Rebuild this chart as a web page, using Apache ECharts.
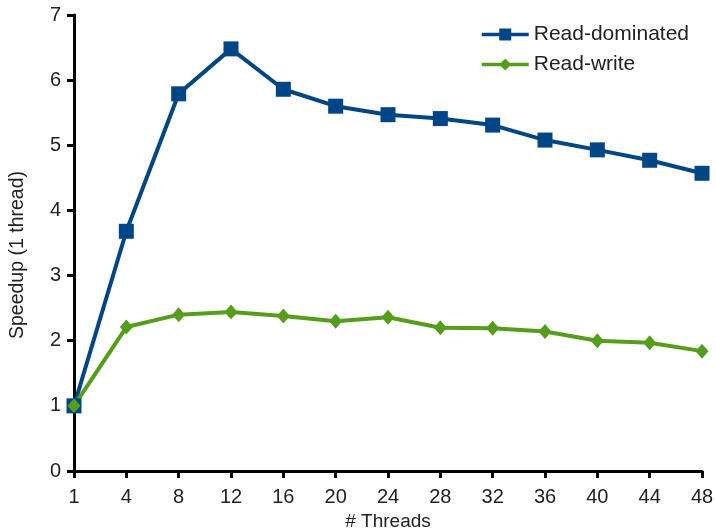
<!DOCTYPE html>
<html>
<head>
<meta charset="utf-8">
<script src="https://cdn.jsdelivr.net/npm/echarts@6/dist/echarts.min.js"></script>
<style>
  html, body { margin: 0; padding: 0; background: #fff; }
  #main { width: 716px; height: 529px; }
</style>
</head>
<body>
<div id="main"></div>
<script>
// thread counts on the x axis
var threads = ['1', '4', '8', '12', '16', '20', '24', '28', '32', '36', '40', '44', '48'];
// speedup relative to 1 thread
var readDominated = [1.0, 3.68, 5.79, 6.48, 5.86, 5.60, 5.47, 5.41, 5.31, 5.08, 4.93, 4.77, 4.57];
var readWrite = [1.0, 2.21, 2.40, 2.44, 2.38, 2.30, 2.36, 2.20, 2.19, 2.14, 2.00, 1.97, 1.84];

var chart = echarts.init(document.getElementById('main'), null, { renderer: 'canvas' });

var font = 'Liberation Sans';

var option = {
  backgroundColor: '#ffffff',
  animation: false,
  color: ['#004586', '#579d1c'],
  grid: { left: 74, right: 14, top: 15, bottom: 58, containLabel: false, outerBoundsMode: 'none' },
  legend: {
    orient: 'vertical',
    right: 22,
    top: 19,
    itemWidth: 47,
    itemHeight: 15,
    itemGap: 9,
    lineStyle: { width: 3.5 },
    textStyle: { fontFamily: font, fontSize: 21, color: '#222' },
    data: ['Read-dominated', 'Read-write']
  },
  xAxis: {
    type: 'category',
    data: threads,
    boundaryGap: false,
    name: '# Threads',
    nameLocation: 'middle',
    nameGap: 41,
    nameTextStyle: { fontFamily: font, fontSize: 19, color: '#222' },
    axisLine: { lineStyle: { color: '#000', width: 3 } },
    axisTick: { length: 7, lineStyle: { color: '#000', width: 3 } },
    axisLabel: { fontFamily: font, fontSize: 20, color: '#222', margin: 16 },
    splitLine: { show: false }
  },
  yAxis: {
    type: 'value',
    min: 0,
    max: 7,
    interval: 1,
    name: 'Speedup (1 thread)',
    nameLocation: 'middle',
    nameGap: 46,
    nameTextStyle: { fontFamily: font, fontSize: 19.5, color: '#222', padding: [0, 24, 0, 0] },
    axisLine: { show: true, lineStyle: { color: '#000', width: 3 } },
    axisTick: { show: true, length: 7, lineStyle: { color: '#000', width: 3 } },
    axisLabel: { fontFamily: font, fontSize: 20, color: '#222', margin: 13 },
    splitLine: { show: false }
  },
  series: [
    {
      name: 'Read-dominated',
      type: 'line',
      data: readDominated,
      symbol: 'rect',
      symbolSize: 15,
      lineStyle: { width: 4 },
      itemStyle: { color: '#004586' }
    },
    {
      name: 'Read-write',
      type: 'line',
      data: readWrite,
      symbol: 'diamond',
      symbolSize: [13, 15],
      lineStyle: { width: 4 },
      itemStyle: { color: '#579d1c' }
    }
  ]
};

chart.setOption(option);
</script>
</body>
</html>
